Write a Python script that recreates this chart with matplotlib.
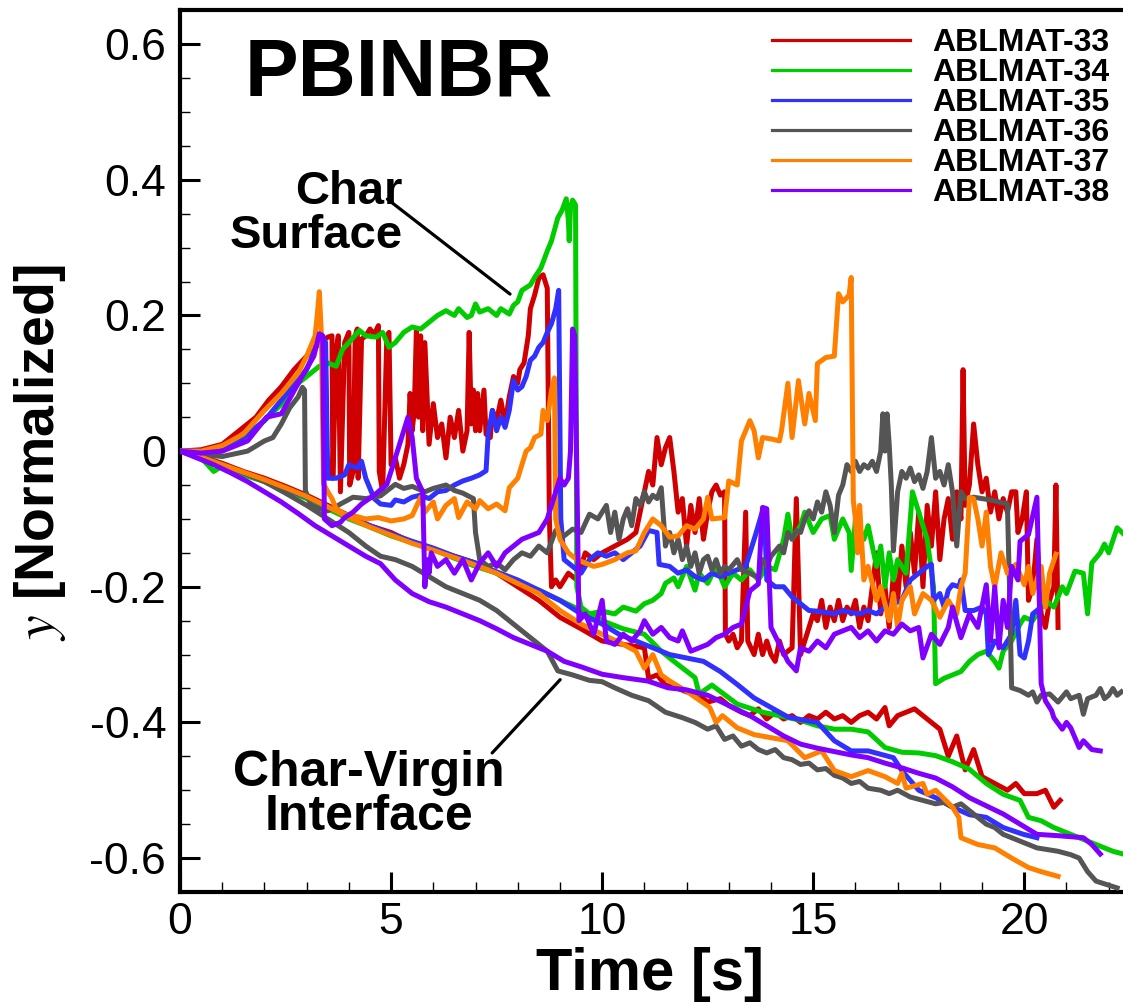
import numpy as np
import matplotlib
matplotlib.use('Agg')
import matplotlib.pyplot as plt
from matplotlib.lines import Line2D
from matplotlib.ticker import MultipleLocator

plt.rcParams['font.family'] = ['Liberation Sans', 'DejaVu Sans']
plt.rcParams['mathtext.fontset'] = 'stix'

## 데이터 (time [s], y normalized)
names = ['ABLMAT-33', 'ABLMAT-34', 'ABLMAT-35', 'ABLMAT-36', 'ABLMAT-37', 'ABLMAT-38']
colors = ['#d00000', '#00cc00', '#3030ff', '#555555', '#ff7f00', '#8000ff']

# char surface
surf_33 = [(0,0),(0.5,0.002),(1.0,0.01),(1.4,0.03),(1.8,0.05),(2.1,0.075),(2.4,0.095),(2.7,0.12),(3.0,0.14),(3.3,0.16),
           (3.5,0.168),(3.6,0.17),(3.62,-0.04),(3.7,0.15),(3.75,0.17),(3.8,-0.06),(3.9,0.16),(4.0,0.175),(4.02,-0.05),(4.1,-0.03),
           (4.15,0.17),(4.2,0.18),(4.22,-0.04),(4.3,0.165),(4.4,0.17),(4.5,0.18),(4.6,0.172),(4.7,0.185),(4.72,-0.03),(4.8,-0.06),
           (4.9,0.17),(4.95,0.175),(5.0,-0.02),(5.1,-0.01),(5.2,-0.04),(5.3,-0.02),(5.4,0.01),(5.45,0.085),(5.5,0.03),(5.55,0.06),
           (5.6,0.18),(5.65,0.05),(5.7,0.17),(5.75,0.03),(5.8,0.16),(5.9,0.01),(6.0,0.07),(6.1,0.02),(6.2,0.04),(6.3,-0.01),
           (6.4,0.05),(6.5,0.02),(6.6,0.06),(6.7,0.0),(6.8,0.03),(6.85,0.175),(6.9,0.04),(6.95,0.09),(7.0,0.03),(7.05,0.085),
           (7.1,0.03),(7.2,0.09),(7.25,0.025),(7.35,0.02),(7.4,0.06),(7.5,0.045),(7.6,0.075),(7.7,0.04),(7.8,0.08),(7.9,0.11),
           (8.0,0.1),(8.05,0.12),(8.15,0.13),(8.25,0.17),(8.3,0.21),(8.4,0.23),(8.5,0.255),(8.6,0.26),(8.7,0.24),(8.75,-0.1),
           (8.8,-0.2),(8.9,-0.19),(9.0,-0.2),(9.2,-0.18),(9.4,-0.19),(9.6,-0.15),(9.8,-0.16),(10.0,-0.15),(10.3,-0.14),(10.6,-0.13),
           (10.8,-0.12),(11.0,-0.06),(11.1,-0.03),(11.2,-0.05),(11.3,0.02),(11.4,-0.02),(11.5,0.005),(11.6,0.02),(11.7,-0.03),(11.8,-0.09),
           (11.9,-0.07),(12.0,-0.14),(12.1,-0.08),(12.2,-0.12),(12.3,-0.07),(12.4,-0.13),(12.5,-0.09),(12.6,-0.06),(12.7,-0.05),(12.8,-0.065),
           (12.9,-0.06),(12.92,-0.27),(13.0,-0.28),(13.1,-0.27),(13.2,-0.29),(13.3,-0.28),(13.4,-0.09),(13.45,-0.28),(13.6,-0.3),(13.7,-0.27),
           (13.8,-0.3),(13.9,-0.28),(14.0,-0.3),(14.1,-0.31),(14.2,-0.28),(14.3,-0.3),(14.5,-0.29),(14.6,-0.07),(14.7,-0.3),(14.8,-0.28),
           (15.0,-0.24),(15.1,-0.25),(15.2,-0.22),(15.3,-0.26),(15.4,-0.23),(15.5,-0.25),(15.6,-0.22),(15.7,-0.25),(15.8,-0.23),(15.9,-0.24),
           (16.0,-0.22),(16.1,-0.26),(16.2,-0.23),(16.3,-0.25),(16.4,-0.2),(16.5,-0.15),(16.6,-0.24),(16.7,-0.2),(16.8,-0.26),(16.9,-0.18),
           (17.0,-0.22),(17.1,-0.14),(17.2,-0.2),(17.3,-0.12),(17.4,-0.18),(17.5,-0.09),(17.6,-0.2),(17.7,-0.08),(17.8,-0.14),(17.9,-0.06),
           (18.0,-0.16),(18.1,-0.1),(18.2,-0.07),(18.3,-0.13),(18.4,-0.06),(18.5,-0.1),(18.55,0.12),(18.6,-0.08),(18.7,-0.05),(18.8,0.04),
           (18.9,-0.02),(19.0,-0.06),(19.1,-0.04),(19.2,-0.09),(19.3,-0.06),(19.4,-0.1),(19.5,-0.07),(19.6,-0.09),(19.7,-0.06),(19.8,-0.06),
           (19.85,-0.12),(19.95,-0.1),(20.05,-0.06),(20.1,-0.22),(20.2,-0.2),(20.3,-0.13),(20.4,-0.24),(20.5,-0.26),(20.6,-0.22),(20.7,-0.2),
           (20.75,-0.05),(20.8,-0.26)]
surf_34 = [(0,0),(0.5,-0.003),(1.0,0.0),(1.5,0.02),(2.0,0.045),(2.5,0.075),(2.8,0.1),(3.0,0.11),(3.3,0.125),(3.5,0.13),
           (3.7,0.125),(3.85,0.15),(4.0,0.16),(4.25,0.178),(4.4,0.17),(4.65,0.168),(4.8,0.175),(4.95,0.153),(5.1,0.16),(5.3,0.175),
           (5.5,0.183),(5.7,0.18),(5.9,0.19),(6.1,0.2),(6.3,0.207),(6.5,0.2),(6.6,0.21),(6.8,0.197),(6.9,0.2),(7.0,0.217),
           (7.1,0.205),(7.3,0.21),(7.5,0.2),(7.6,0.21),(7.8,0.202),(7.9,0.215),(8.0,0.22),(8.1,0.237),(8.3,0.245),(8.4,0.256),
           (8.55,0.27),(8.7,0.295),(8.8,0.31),(8.95,0.344),(9.05,0.355),(9.15,0.372),(9.2,0.34),(9.22,0.31),(9.25,0.358),(9.3,0.37),
           (9.37,0.363),(9.4,-0.2),(9.5,-0.23),(9.7,-0.24),(10.0,-0.236),(10.3,-0.24),(10.5,-0.23),(10.8,-0.236),(11.0,-0.225),(11.2,-0.22),
           (11.4,-0.21),(11.5,-0.195),(11.7,-0.187),(11.8,-0.2),(12.0,-0.17),(12.2,-0.205),(12.3,-0.18),(12.5,-0.195),(12.7,-0.17),(12.9,-0.2),
           (13.1,-0.18),(13.3,-0.19),(13.5,-0.175),(13.7,-0.19),(13.9,-0.17),(14.1,-0.175),(14.3,-0.13),(14.4,-0.093),(14.5,-0.13),(14.7,-0.11),
           (14.8,-0.09),(15.0,-0.12),(15.2,-0.1),(15.4,-0.095),(15.5,-0.13),(15.7,-0.1),(15.85,-0.12),(15.9,-0.176),(16.0,-0.1),(16.2,-0.13),
           (16.3,-0.11),(16.5,-0.17),(16.6,-0.14),(16.7,-0.2),(16.8,-0.15),(16.9,-0.19),(17.0,-0.16),(17.2,-0.18),(17.35,-0.06),(17.5,-0.09),
           (17.7,-0.13),(17.85,-0.2),(17.9,-0.343),(18.1,-0.335),(18.3,-0.33),(18.5,-0.325),(18.7,-0.31),(18.9,-0.3),(19.1,-0.295),(19.3,-0.31),
           (19.4,-0.32),(19.5,-0.295),(19.7,-0.28),(19.9,-0.255),(20.0,-0.245),(20.2,-0.25),(20.5,-0.22),(20.7,-0.23),(20.9,-0.2),(21.0,-0.21),
           (21.2,-0.177),(21.4,-0.18),(21.5,-0.24),(21.6,-0.165),(21.8,-0.15),(21.9,-0.137),(22.0,-0.15),(22.2,-0.113),(22.4,-0.125)]
surf_35 = [(0,0),(0.5,0.0),(1.0,0.005),(1.5,0.02),(2.0,0.045),(2.4,0.075),(2.8,0.105),(3.0,0.12),(3.2,0.15),(3.35,0.172),
           (3.45,0.16),(3.5,-0.04),(3.7,-0.04),(3.9,-0.035),(4.0,-0.02),(4.2,-0.025),(4.3,-0.015),(4.4,-0.04),(4.6,-0.07),(4.75,-0.078),
           (5.0,-0.08),(5.1,-0.072),(5.3,-0.075),(5.5,-0.068),(5.7,-0.065),(5.9,-0.07),(6.1,-0.06),(6.3,-0.058),(6.5,-0.05),(6.7,-0.044),
           (6.9,-0.04),(7.1,-0.035),(7.25,-0.029),(7.3,0.025),(7.4,0.06),(7.5,0.03),(7.6,0.05),(7.7,0.035),(7.8,0.06),(7.9,0.104),
           (8.0,0.09),(8.1,0.095),(8.2,0.11),(8.3,0.134),(8.4,0.14),(8.5,0.153),(8.6,0.16),(8.7,0.175),(8.8,0.188),(8.9,0.21),
           (8.97,0.237),(9.02,-0.1),(9.1,-0.16),(9.3,-0.17),(9.5,-0.18),(9.7,-0.16),(9.9,-0.15),(10.1,-0.155),(10.3,-0.15),(10.5,-0.16),
           (10.7,-0.15),(10.9,-0.14),(11.1,-0.117),(11.3,-0.12),(11.35,-0.167),(11.6,-0.17),(11.8,-0.18),(12.0,-0.175),(12.2,-0.185),(12.4,-0.19),
           (12.6,-0.18),(12.8,-0.185),(13.0,-0.18),(13.2,-0.175),(13.4,-0.17),(13.5,-0.15),(13.65,-0.12),(13.8,-0.088),(13.85,-0.1),(13.9,-0.19),
           (14.1,-0.2),(14.3,-0.2),(14.5,-0.215),(14.7,-0.225),(14.9,-0.235),(15.1,-0.236),(15.3,-0.238),(15.5,-0.24),(15.7,-0.235),(15.9,-0.238),
           (16.1,-0.24),(16.3,-0.235),(16.5,-0.24),(16.7,-0.23),(16.9,-0.225),(17.1,-0.22),(17.3,-0.19),(17.5,-0.18),(17.7,-0.17),(17.8,-0.167),
           (17.85,-0.22),(18.0,-0.21),(18.1,-0.23),(18.2,-0.205),(18.3,-0.197),(18.45,-0.2),(18.5,-0.19),(18.6,-0.235),(18.8,-0.235),(19.0,-0.23),
           (19.1,-0.24),(19.15,-0.3),(19.3,-0.28),(19.5,-0.29),(19.7,-0.27),(19.8,-0.22),(19.9,-0.3),(20.0,-0.305),(20.1,-0.28),(20.2,-0.24),
           (20.3,-0.235),(20.4,-0.23)]
surf_36 = [(0,0),(0.5,-0.005),(1.0,-0.008),(1.6,0.0),(2.0,0.015),(2.2,0.02),(2.4,0.04),(2.6,0.064),(2.8,0.08),(2.9,0.094),
           (2.95,0.09),(2.97,-0.058),(3.1,-0.08),(3.3,-0.085),(3.5,-0.088),(3.7,-0.082),(3.8,-0.078),(4.1,-0.068),(4.4,-0.07),(4.75,-0.066),
           (5.1,-0.049),(5.3,-0.055),(5.5,-0.052),(5.8,-0.06),(6.0,-0.055),(6.3,-0.05),(6.5,-0.058),(6.7,-0.062),(6.95,-0.07),(7.0,-0.12),
           (7.1,-0.16),(7.3,-0.17),(7.5,-0.165),(7.7,-0.175),(7.9,-0.16),(8.1,-0.15),(8.3,-0.155),(8.5,-0.14),(8.7,-0.15),(8.9,-0.117),
           (9.1,-0.125),(9.3,-0.115),(9.5,-0.12),(9.7,-0.093),(9.9,-0.1),(10.1,-0.08),(10.2,-0.12),(10.3,-0.09),(10.4,-0.13),(10.5,-0.1),
           (10.6,-0.085),(10.7,-0.11),(10.8,-0.07),(10.9,-0.08),(11.0,-0.06),(11.1,-0.075),(11.2,-0.065),(11.3,-0.07),(11.4,-0.054),(11.5,-0.14),
           (11.6,-0.12),(11.7,-0.15),(11.8,-0.13),(11.9,-0.16),(12.0,-0.14),(12.1,-0.17),(12.2,-0.15),(12.3,-0.18),(12.4,-0.16),(12.5,-0.155),
           (12.6,-0.175),(12.7,-0.16),(12.8,-0.18),(12.9,-0.17),(13.0,-0.175),(13.2,-0.16),(13.3,-0.175),(13.5,-0.18),(13.7,-0.187),(13.8,-0.16),
           (13.9,-0.17),(14.0,-0.155),(14.2,-0.14),(14.3,-0.15),(14.4,-0.12),(14.5,-0.13),(14.6,-0.117),(14.7,-0.12),(14.8,-0.1),(14.9,-0.088),
           (15.0,-0.1),(15.1,-0.075),(15.2,-0.09),(15.3,-0.06),(15.4,-0.08),(15.5,-0.12),(15.6,-0.065),(15.7,-0.05),(15.8,-0.02),(15.9,-0.03),
           (16.0,-0.015),(16.1,-0.03),(16.2,-0.02),(16.3,-0.025),(16.4,-0.015),(16.5,-0.03),(16.6,0.0),(16.65,0.055),(16.7,0.0),(16.75,0.055),
           (16.8,0.01),(16.85,-0.05),(16.9,-0.147),(17.0,-0.06),(17.1,-0.03),(17.2,-0.04),(17.3,-0.025),(17.4,-0.045),(17.5,-0.035),(17.6,-0.055),
           (17.7,-0.03),(17.8,0.02),(17.9,-0.04),(18.0,-0.03),(18.1,-0.05),(18.2,-0.02),(18.3,-0.06),(18.4,-0.14),(18.5,-0.06),(18.6,-0.07),
           (18.8,-0.068),(19.0,-0.07),(19.2,-0.072),(19.4,-0.075),(19.6,-0.078),(19.65,-0.2),(19.7,-0.349),(19.9,-0.353),(20.1,-0.36),(20.2,-0.355),
           (20.3,-0.37),(20.4,-0.36),(20.6,-0.358),(20.8,-0.37),(21.0,-0.355),(21.1,-0.365),(21.3,-0.36),(21.4,-0.388),(21.5,-0.365),(21.7,-0.36),
           (21.8,-0.35),(21.9,-0.365),(22.0,-0.36),(22.1,-0.35),(22.2,-0.36),(22.3,-0.355)]
surf_37 = [(0,0),(0.5,0.0),(1.0,0.008),(1.5,0.025),(2.0,0.06),(2.4,0.085),(2.8,0.115),(3.0,0.14),(3.2,0.17),(3.25,0.2),
           (3.3,0.235),(3.35,0.17),(3.4,-0.048),(3.5,-0.06),(3.6,-0.07),(3.7,-0.085),(3.9,-0.093),(4.1,-0.095),(4.4,-0.1),(4.7,-0.098),
           (5.0,-0.103),(5.3,-0.1),(5.5,-0.095),(5.7,-0.068),(5.8,-0.09),(6.0,-0.075),(6.1,-0.1),(6.3,-0.08),(6.5,-0.07),(6.6,-0.098),
           (6.8,-0.075),(7.0,-0.085),(7.1,-0.073),(7.3,-0.085),(7.5,-0.078),(7.7,-0.088),(7.8,-0.054),(8.0,-0.04),(8.2,0.0),(8.3,0.005),
           (8.4,0.02),(8.55,0.025),(8.6,0.06),(8.7,0.045),(8.8,0.09),(8.87,0.108),(8.9,-0.1),(9.0,-0.13),(9.2,-0.15),(9.4,-0.16),
           (9.6,-0.165),(9.8,-0.17),(10.0,-0.167),(10.3,-0.16),(10.6,-0.15),(10.8,-0.147),(11.0,-0.12),(11.2,-0.1),(11.4,-0.11),(11.6,-0.127),
           (11.8,-0.125),(12.0,-0.11),(12.2,-0.115),(12.4,-0.1),(12.5,-0.068),(12.6,-0.1),(12.9,-0.098),(13.0,-0.044),(13.2,-0.05),(13.3,0.015),
           (13.5,0.045),(13.6,0.03),(13.7,-0.01),(13.8,0.02),(14.0,0.018),(14.2,0.015),(14.25,0.03),(14.4,0.1),(14.5,0.02),(14.65,0.104),
           (14.8,0.04),(14.9,0.085),(15.05,0.045),(15.1,0.129),(15.3,0.138),(15.5,0.14),(15.6,0.232),(15.7,0.22),(15.85,0.23),(15.9,0.256),
           (15.95,-0.073),(16.0,-0.1),(16.05,-0.15),(16.1,-0.08),(16.2,-0.19),(16.3,-0.17),(16.5,-0.22),(16.6,-0.2),(16.8,-0.25),(16.9,-0.21),
           (17.0,-0.26),(17.1,-0.22),(17.3,-0.2),(17.4,-0.24),(17.6,-0.21),(17.8,-0.22),(18.0,-0.245),(18.2,-0.22),(18.4,-0.24),(18.5,-0.2),
           (18.6,-0.18),(18.7,-0.068),(18.8,-0.07),(18.9,-0.1),(19.0,-0.14),(19.1,-0.09),(19.2,-0.17),(19.3,-0.2),(19.45,-0.15),(19.6,-0.18),
           (19.8,-0.167),(20.0,-0.197),(20.1,-0.17),(20.2,-0.21),(20.4,-0.17),(20.5,-0.23),(20.6,-0.18),(20.75,-0.152)]
surf_38 = [(0,0),(0.5,-0.003),(1.0,0.0),(1.6,0.015),(2.05,0.05),(2.4,0.055),(2.8,0.1),(3.17,0.14),(3.3,0.173),(3.38,0.17),
           (3.42,-0.1),(3.6,-0.11),(3.8,-0.105),(3.9,-0.098),(4.1,-0.09),(4.3,-0.078),(4.6,-0.065),(4.9,-0.049),(5.05,-0.02),(5.2,0.01),
           (5.3,0.03),(5.4,0.05),(5.5,0.02),(5.6,-0.04),(5.75,-0.06),(5.8,-0.2),(5.85,-0.16),(5.9,-0.18),(5.95,-0.15),(6.1,-0.17),
           (6.3,-0.16),(6.5,-0.18),(6.7,-0.16),(6.9,-0.19),(7.1,-0.165),(7.3,-0.15),(7.5,-0.17),(7.7,-0.15),(7.9,-0.14),(8.1,-0.13),
           (8.3,-0.125),(8.5,-0.12),(8.7,-0.1),(8.9,-0.06),(9.0,-0.04),(9.1,-0.05),(9.2,-0.04),(9.25,0.0),(9.3,0.18),(9.35,0.17),
           (9.4,-0.03),(9.45,-0.25),(9.6,-0.24),(9.8,-0.27),(10.0,-0.22),(10.1,-0.28),(10.3,-0.285),(10.5,-0.27),(10.7,-0.28),(10.9,-0.265),
           (11.0,-0.25),(11.2,-0.27),(11.4,-0.26),(11.6,-0.275),(11.8,-0.28),(11.9,-0.265),(12.1,-0.295),(12.3,-0.29),(12.5,-0.285),(12.7,-0.275),
           (12.9,-0.27),(13.1,-0.26),(13.3,-0.255),(13.5,-0.206),(13.7,-0.196),(13.8,-0.083),(13.9,-0.085),(14.0,-0.26),(14.2,-0.285),(14.4,-0.31),
           (14.6,-0.324),(14.7,-0.29),(14.9,-0.295),(15.1,-0.28),(15.3,-0.29),(15.5,-0.27),(15.7,-0.265),(15.9,-0.26),(16.1,-0.275),(16.3,-0.265),
           (16.5,-0.28),(16.7,-0.265),(16.9,-0.27),(17.1,-0.255),(17.3,-0.265),(17.5,-0.26),(17.6,-0.305),(17.8,-0.27),(18.0,-0.285),(18.2,-0.26),
           (18.3,-0.23),(18.5,-0.275),(18.7,-0.24),(18.9,-0.26),(19.1,-0.197),(19.2,-0.28),(19.3,-0.2),(19.4,-0.29),(19.5,-0.22),(19.6,-0.26),
           (19.7,-0.17),(19.85,-0.19),(19.9,-0.133),(20.1,-0.123),(20.3,-0.068),(20.4,-0.343),(20.5,-0.368),(20.65,-0.383),(20.7,-0.393),(20.9,-0.41),
           (21.0,-0.4),(21.1,-0.408),(21.3,-0.437),(21.4,-0.427),(21.6,-0.44),(21.8,-0.442)]

# char-virgin interface
intf_33 = [(0,0),(0.5,-0.008),(1.0,-0.018),(1.5,-0.03),(2.0,-0.04),(2.5,-0.052),(3.0,-0.065),(3.5,-0.08),(4.0,-0.095),(4.5,-0.11),
           (5.0,-0.12),(5.5,-0.135),(6.0,-0.145),(6.5,-0.155),(7.0,-0.165),(7.5,-0.18),(8.0,-0.2),(8.5,-0.22),(9.0,-0.245),(9.5,-0.262),
           (10.0,-0.28),(10.5,-0.285),(11.0,-0.29),(11.1,-0.335),(11.3,-0.33),(11.5,-0.345),(11.8,-0.35),(12.0,-0.355),(12.3,-0.36),(12.5,-0.37),
           (12.8,-0.365),(13.0,-0.375),(13.3,-0.385),(13.5,-0.39),(13.7,-0.38),(13.9,-0.395),(14.1,-0.385),(14.3,-0.395),(14.5,-0.39),(14.7,-0.4),
           (14.9,-0.39),(15.1,-0.395),(15.3,-0.385),(15.5,-0.395),(15.7,-0.39),(15.9,-0.4),(16.1,-0.39),(16.3,-0.385),(16.5,-0.395),(16.7,-0.378),
           (16.8,-0.405),(17.0,-0.39),(17.2,-0.385),(17.4,-0.38),(17.6,-0.39),(17.8,-0.4),(18.0,-0.41),(18.2,-0.45),(18.4,-0.42),(18.6,-0.47),
           (18.8,-0.44),(19.0,-0.48),(19.3,-0.49),(19.6,-0.5),(19.8,-0.49),(20.0,-0.505),(20.3,-0.505),(20.5,-0.5),(20.7,-0.525),(20.85,-0.515)]
intf_34 = [(0,0),(0.5,-0.01),(0.8,-0.03),(1.0,-0.022),(1.5,-0.035),(2.0,-0.045),(2.5,-0.058),(3.0,-0.07),(3.5,-0.085),(4.0,-0.1),
           (4.5,-0.112),(5.0,-0.125),(5.5,-0.135),(6.0,-0.145),(6.5,-0.158),(7.0,-0.17),(7.5,-0.18),(8.0,-0.195),(8.5,-0.205),(9.0,-0.22),
           (9.5,-0.235),(10.0,-0.25),(10.5,-0.262),(11.0,-0.27),(11.4,-0.295),(11.7,-0.31),(12.2,-0.334),(12.3,-0.358),(12.6,-0.345),(13.2,-0.373),
           (13.8,-0.385),(14.2,-0.39),(14.7,-0.397),(15.1,-0.405),(15.5,-0.41),(15.9,-0.41),(16.3,-0.414),(16.7,-0.437),(17.1,-0.444),(17.5,-0.445),
           (17.9,-0.449),(18.3,-0.458),(18.7,-0.469),(19.1,-0.49),(19.5,-0.506),(19.9,-0.515),(20.1,-0.54),(20.4,-0.545),(20.7,-0.555),(21.1,-0.565),
           (21.5,-0.575),(21.9,-0.585),(22.1,-0.59),(22.4,-0.595)]
intf_35 = [(0,0),(0.5,-0.008),(1.0,-0.02),(1.5,-0.032),(2.0,-0.043),(2.5,-0.055),(3.0,-0.068),(3.5,-0.082),(4.0,-0.097),(4.5,-0.11),
           (5.0,-0.122),(5.5,-0.133),(6.0,-0.143),(6.5,-0.155),(7.0,-0.165),(7.5,-0.178),(8.0,-0.19),(8.5,-0.205),(9.0,-0.22),(9.5,-0.24),
           (10.0,-0.255),(10.4,-0.27),(10.8,-0.28),(11.2,-0.29),(11.6,-0.3),(12.0,-0.305),(12.4,-0.31),(12.8,-0.325),(13.2,-0.344),(13.6,-0.364),
           (14.0,-0.378),(14.4,-0.392),(14.8,-0.397),(15.1,-0.4),(15.5,-0.427),(15.9,-0.442),(16.3,-0.442),(16.9,-0.452),(17.1,-0.471),(17.5,-0.5),
           (17.9,-0.511),(18.3,-0.525),(18.7,-0.536),(19.1,-0.54),(19.5,-0.555),(19.98,-0.565),(20.3,-0.57)]
intf_36 = [(0,0),(0.5,-0.01),(1.0,-0.02),(1.5,-0.032),(2.0,-0.045),(2.5,-0.062),(3.0,-0.08),(3.5,-0.1),(4.0,-0.12),(4.4,-0.14),
           (4.75,-0.155),(5.1,-0.16),(5.5,-0.17),(5.9,-0.185),(6.3,-0.2),(6.7,-0.21),(7.1,-0.22),(7.5,-0.235),(7.9,-0.255),(8.3,-0.275),
           (8.7,-0.295),(8.95,-0.324),(9.3,-0.33),(9.7,-0.338),(10.0,-0.34),(10.3,-0.349),(10.7,-0.36),(11.1,-0.368),(11.5,-0.385),(11.9,-0.393),
           (12.2,-0.4),(12.5,-0.41),(12.7,-0.405),(12.9,-0.425),(13.1,-0.42),(13.3,-0.435),(13.5,-0.43),(13.7,-0.44),(13.9,-0.445),(14.1,-0.44),
           (14.3,-0.452),(14.5,-0.455),(14.7,-0.462),(14.9,-0.46),(15.1,-0.47),(15.3,-0.468),(15.5,-0.478),(15.7,-0.482),(15.9,-0.49),(16.1,-0.487),
           (16.3,-0.497),(16.6,-0.5),(16.8,-0.505),(17.0,-0.5),(17.3,-0.51),(17.6,-0.515),(17.9,-0.52),(18.1,-0.518),(18.3,-0.525),(18.5,-0.52),
           (18.7,-0.53),(18.9,-0.54),(19.1,-0.55),(19.3,-0.555),(19.5,-0.565),(19.7,-0.57),(19.9,-0.575),(20.1,-0.58),(20.3,-0.585),(20.6,-0.588),
           (20.8,-0.59),(21.1,-0.595),(21.3,-0.6),(21.5,-0.62),(21.7,-0.634),(21.9,-0.638),(22.2,-0.644)]
intf_37 = [(0,0),(0.5,-0.009),(1.0,-0.02),(1.5,-0.031),(2.0,-0.042),(2.5,-0.054),(3.0,-0.067),(3.5,-0.082),(4.0,-0.098),(4.5,-0.112),
           (5.0,-0.124),(5.5,-0.136),(6.0,-0.146),(6.5,-0.157),(7.0,-0.168),(7.5,-0.18),(8.0,-0.195),(8.5,-0.21),(9.0,-0.235),(9.5,-0.255),
           (10.0,-0.27),(10.5,-0.285),(10.8,-0.295),(11.0,-0.32),(11.2,-0.3),(11.4,-0.33),(11.6,-0.339),(12.0,-0.354),(12.55,-0.378),(12.7,-0.4),
           (12.85,-0.39),(13.2,-0.408),(13.6,-0.418),(14.4,-0.427),(14.8,-0.452),(15.2,-0.442),(15.5,-0.471),(15.9,-0.48),(16.3,-0.471),(16.7,-0.48),
           (17.0,-0.49),(17.1,-0.475),(17.2,-0.497),(17.6,-0.49),(17.7,-0.506),(17.9,-0.5),(18.3,-0.525),(18.45,-0.54),(18.5,-0.57),(18.9,-0.58),
           (19.3,-0.585),(19.7,-0.6),(20.1,-0.614),(20.4,-0.62),(20.8,-0.627)]
intf_38 = [(0,0),(0.4,-0.01),(0.8,-0.02),(1.2,-0.032),(1.6,-0.045),(2.0,-0.06),(2.4,-0.075),(2.8,-0.092),(3.2,-0.11),(3.6,-0.125),
           (4.0,-0.14),(4.4,-0.155),(4.75,-0.166),(5.1,-0.19),(5.5,-0.21),(5.9,-0.222),(6.3,-0.23),(6.7,-0.24),(7.1,-0.25),(7.5,-0.262),
           (7.9,-0.275),(8.3,-0.285),(8.7,-0.295),(9.1,-0.31),(9.5,-0.318),(10.0,-0.329),(10.5,-0.334),(11.08,-0.339),(11.56,-0.349),(12.0,-0.352),
           (12.5,-0.36),(13.1,-0.378),(13.5,-0.39),(13.9,-0.405),(14.3,-0.42),(14.7,-0.432),(15.1,-0.438),(15.5,-0.443),(15.9,-0.448),(16.3,-0.452),
           (16.7,-0.46),(17.1,-0.467),(17.5,-0.475),(17.9,-0.482),(18.3,-0.495),(18.7,-0.511),(19.1,-0.523),(19.5,-0.535),(19.9,-0.55),(20.3,-0.565),
           (20.8,-0.567),(21.4,-0.57),(21.6,-0.58),(21.8,-0.594)]

surfaces = [surf_33, surf_34, surf_35, surf_36, surf_37, surf_38]
interfaces = [intf_33, intf_34, intf_35, intf_36, intf_37, intf_38]

fig = plt.figure(figsize=(11.23, 10.02), dpi=100)
ax = fig.add_axes([0.1603, 0.1098, 0.842, 0.880])

for i in range(6):
    s = np.array(surfaces[i])
    f = np.array(interfaces[i])
    ax.plot(f[:, 0], f[:, 1], color=colors[i], lw=3.6, zorder=2 + i)
    ax.plot(s[:, 0], s[:, 1], color=colors[i], lw=3.6, zorder=2 + i)

ax.set_xlim(0, 22.4)
ax.set_ylim(-0.65, 0.65)
ax.xaxis.set_major_locator(MultipleLocator(5))
ax.xaxis.set_minor_locator(MultipleLocator(1))
ax.yaxis.set_minor_locator(MultipleLocator(0.05))
ax.set_yticks([0.6, 0.4, 0.2, 0, -0.2, -0.4, -0.6])
ax.set_yticklabels(['0.6', '0.4', '0.2', '0', '-0.2', '-0.4', '-0.6'])
ax.tick_params(which='major', direction='in', length=14.5, width=2.2, labelsize=32)
ax.tick_params(which='minor', direction='in', length=7.5, width=1.0)
ax.tick_params(axis='y', pad=10)
ax.tick_params(axis='x', pad=7)
for sp in ['left', 'bottom', 'top']:
    ax.spines[sp].set_linewidth(3)
ax.spines['right'].set_visible(False)

ax.set_xlabel('Time [s]', fontsize=43, fontweight='bold')
ax.xaxis.set_label_coords(0.497, -0.062)
ax.set_ylabel(r'$y$ [Normalized]', fontsize=40, fontweight='bold')
ax.yaxis.set_label_coords(-0.118, 0.498)

ax.text(0.2316, 0.9036, 'PBINBR', transform=ax.transAxes, fontsize=58,
        fontweight='bold', ha='center', va='baseline')

# 주석
ax.annotate('', xy=(7.87, 0.229), xytext=(4.86, 0.374),
            arrowprops=dict(arrowstyle='-', lw=2.3, color='black'))
ax.text(5.28, 0.349, 'Char\nSurface', fontsize=34, fontweight='bold',
        ha='right', va='center', multialignment='right', linespacing=1.0)
ax.annotate('', xy=(9.05, -0.334), xytext=(7.35, -0.448),
            arrowprops=dict(arrowstyle='-', lw=2.3, color='black'))
ax.text(4.48, -0.507, 'Char-Virgin\nInterface', fontsize=36, fontweight='bold',
        ha='center', va='center', multialignment='center', linespacing=0.95)

handles = [Line2D([], [], color=c, lw=2.3) for c in colors]
leg = ax.legend(handles, names, loc='upper right', bbox_to_anchor=(1.007, 1.005),
                frameon=False, prop={'weight': 'bold', 'size': 23},
                handlelength=4.3, handletextpad=0.72, labelspacing=0.0,
                borderaxespad=0.3)

plt.savefig('out.png', dpi=100)
